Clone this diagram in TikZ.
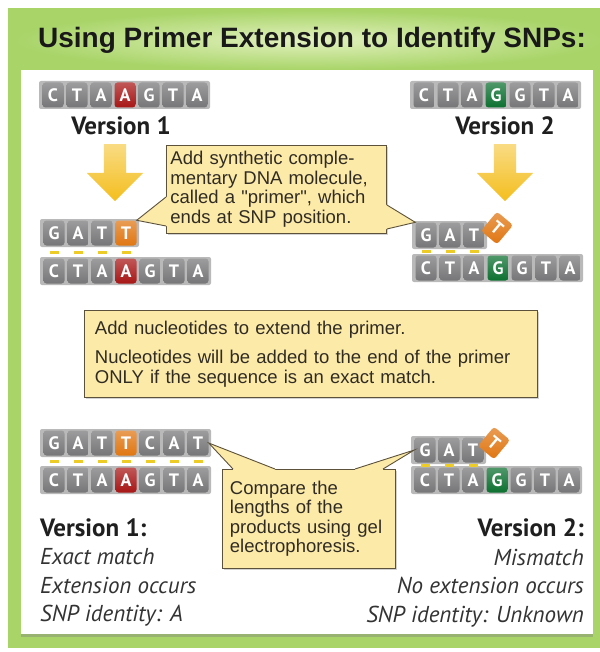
\documentclass[tikz,border=0pt]{standalone}
\usepackage{fontspec}
\setmainfont{Liberation Sans}
\newfontfamily\basefont{PT Sans}
\usetikzlibrary{positioning,calc,shapes.arrows,shadows}

\definecolor{framegreen}{RGB}{168,212,104}
\definecolor{bandlight}{RGB}{226,241,190}
\definecolor{noteyellow}{RGB}{252,234,168}
\definecolor{noteedge}{RGB}{92,82,60}
\definecolor{notetext}{RGB}{48,44,36}
\definecolor{gy}{RGB}{118,118,120}
\definecolor{rd}{RGB}{168,22,22}
\definecolor{gn}{RGB}{12,112,48}
\definecolor{og}{RGB}{224,118,18}
\definecolor{bondyellow}{RGB}{238,204,40}
\definecolor{dropyellow}{RGB}{244,190,30}

% one strand: name, left x, centre y, number of bases, letter/colour list
\newcommand\strand[5]{%
  \fill[backbone] (#2-2,#3-14) rectangle (#2+24*#4+1,#3+14);
  \foreach \b/\c [count=\i] in {#5}
    \node[base,top color=\c!72!white,bottom color=\c] (#1\i) at (#2+24*\i-12,#3) {\b};}

\begin{document}
\begin{tikzpicture}[x=1pt,y=-1pt,
    base/.style={rounded corners=3pt,minimum width=21pt,minimum height=25pt,inner sep=0pt,
      text=white,font=\basefont\bfseries\fontsize{18}{18}\selectfont},
    backbone/.style={fill=gray!55,rounded corners=2pt},
    bond/.style={fill=bondyellow,minimum width=9pt,minimum height=3pt,inner sep=0pt},
    note/.style={fill=noteyellow,draw=noteedge,line width=0.9pt,
      drop shadow={opacity=.35,shadow xshift=2pt,shadow yshift=-2pt},
      align=left,inner sep=0pt,text=notetext,font=\fontsize{18.5}{19.5}\selectfont},
    pointer/.style={draw=noteedge,line width=0.9pt},
    vlabel/.style={font=\basefont\bfseries\fontsize{25}{27}\selectfont,text=black!88,inner sep=0pt},
    result/.style={font=\basefont\itshape\fontsize{23}{28.5}\selectfont,text=black!80,inner sep=0pt},
    down/.style={single arrow,shape border rotate=270,inner sep=11pt,minimum height=57pt,
      single arrow head extend=17pt,top color=dropyellow!55!white,bottom color=dropyellow}]

  \useasboundingbox (0,0) rectangle (599,652);

  % frame and white panel
  \fill[framegreen] (8,8) rectangle (605,648);
  \shade[inner color=bandlight,outer color=framegreen] (12,10) rectangle (605,70);
  \fill[white,drop shadow={opacity=.4,shadow xshift=0pt,shadow yshift=-3pt}] (21,70) rectangle (593,634);

  \node[font=\bfseries\fontsize{28}{30}\selectfont,text=black!90] (head) at (312,40)
    {Using Primer Extension to Identify SNPs:};

  % the two template versions
  \strand{ta}{41}{95}{7}{C/gy,T/gy,A/gy,A/rd,G/gy,T/gy,A/gy}
  \strand{tb}{412}{95}{7}{C/gy,T/gy,A/gy,G/gn,G/gy,T/gy,A/gy}
  \node[vlabel] (v1) at (121,126) {Version 1};
  \node[vlabel] (v2) at (505,126) {Version 2};
  \node[down] (drop1) at (115,167) {};
  \node[down] (drop2) at (505,167) {};

  % primer annealed
  \strand{pa}{42}{233}{4}{G/gy,A/gy,T/gy,T/og}
  \strand{sa}{42}{271}{7}{C/gy,T/gy,A/gy,A/rd,G/gy,T/gy,A/gy}
  \foreach \i in {1,...,4}
    \node[bond] (ba\i) at ($(pa\i.south)!.5!(sa\i.north)$) {};
  \strand{pb}{414}{235}{3}{G/gy,A/gy,T/gy}
  \node[base,top color=og!72!white,bottom color=og,rotate=-40] (pbT) at (497,228) {T};
  \strand{sb}{414}{268}{7}{C/gy,T/gy,A/gy,G/gn,G/gy,T/gy,A/gy}
  \foreach \i in {1,...,3}
    \node[bond] (bb\i) at ($(pb\i.south)!.5!(sb\i.north)$) {};

  \node[note,anchor=north west,minimum width=220pt,minimum height=88pt,text width=212pt] (addprimer)
    at (166,145) {Add synthetic comple-\\mentary DNA molecule,\\called a \textquotedbl primer\textquotedbl, which\\ends at SNP position.};
  \fill[noteyellow] ($(addprimer.north west)+(3,52)$) -- ($(addprimer.north west)+(0,52)$) -- (pa4.north east)
    -- ($(addprimer.north west)+(0,81)$) -- ($(addprimer.north west)+(3,81)$) -- cycle;
  \draw[pointer] ($(addprimer.north west)+(0,52)$) -- (pa4.north east) -- ($(addprimer.north west)+(0,81)$);
  \fill[noteyellow] ($(addprimer.north east)+(-3,60)$) -- ($(addprimer.north east)+(0,60)$) -- (pb1.north west)
    -- ($(addprimer.north east)+(0,84)$) -- ($(addprimer.north east)+(-3,84)$) -- cycle;
  \draw[pointer] ($(addprimer.north east)+(0,60)$) -- (pb1.north west) -- ($(addprimer.north east)+(0,84)$);

  \node[note,anchor=north west,minimum width=453pt,minimum height=87pt,text width=432pt] (extend)
    at (84,310) {Add nucleotides to extend the primer.\\[10pt]Nucleotides will be added to the end of the primer\\ONLY if the sequence is an exact match.};

  % extension products
  \strand{ga}{42}{443}{7}{G/gy,A/gy,T/gy,T/og,C/gy,A/gy,T/gy}
  \strand{gs}{42}{480}{7}{C/gy,T/gy,A/gy,A/rd,G/gy,T/gy,A/gy}
  \foreach \i in {1,...,7}
    \node[bond] (bg\i) at ($(ga\i.south)!.5!(gs\i.north)$) {};
  \strand{pc}{413}{450}{3}{G/gy,A/gy,T/gy}
  \node[base,top color=og!72!white,bottom color=og,rotate=-40] (pcT) at (494,443) {T};
  \strand{cs}{413}{480}{7}{C/gy,T/gy,A/gy,G/gn,G/gy,T/gy,A/gy}
  \foreach \i in {1,...,3}
    \node[bond] (bc\i) at ($(pc\i.south)!.5!(cs\i.north)$) {};

  \node[note,anchor=north west,minimum width=173pt,minimum height=99pt,text width=158pt] (compare)
    at (222,469) {Compare the\\lengths of the\\products using gel\\electrophoresis.};
  \fill[noteyellow] ($(compare.north west)+(11,3)$) -- ($(compare.north west)+(11,0)$) -- (ga7.east)
    -- ($(compare.north west)+(53,0)$) -- ($(compare.north west)+(53,3)$) -- cycle;
  \draw[pointer] ($(compare.north west)+(11,0)$) -- (ga7.east) -- ($(compare.north west)+(53,0)$);
  \fill[noteyellow] ($(compare.north west)+(133,3)$) -- ($(compare.north west)+(133,0)$) -- (pc1.west)
    -- ($(compare.north west)+(161,0)$) -- ($(compare.north west)+(161,3)$) -- cycle;
  \draw[pointer] ($(compare.north west)+(133,0)$) -- (pc1.west) -- ($(compare.north west)+(161,0)$);

  % outcome of each version
  \node[vlabel,anchor=base west] (out1) at (40,536) {Version 1:};
  \node[result,align=left,below right=12pt and 0pt of out1.south west] (res1)
    {Exact match\\Extension occurs\\SNP identity: A};
  \node[vlabel,anchor=base east] (out2) at (584,536) {Version 2:};
  \node[result,align=right,below left=12pt and 0pt of out2.south east] (res2)
    {Mismatch\\No extension occurs\\SNP identity: Unknown};
\end{tikzpicture}
\end{document}
